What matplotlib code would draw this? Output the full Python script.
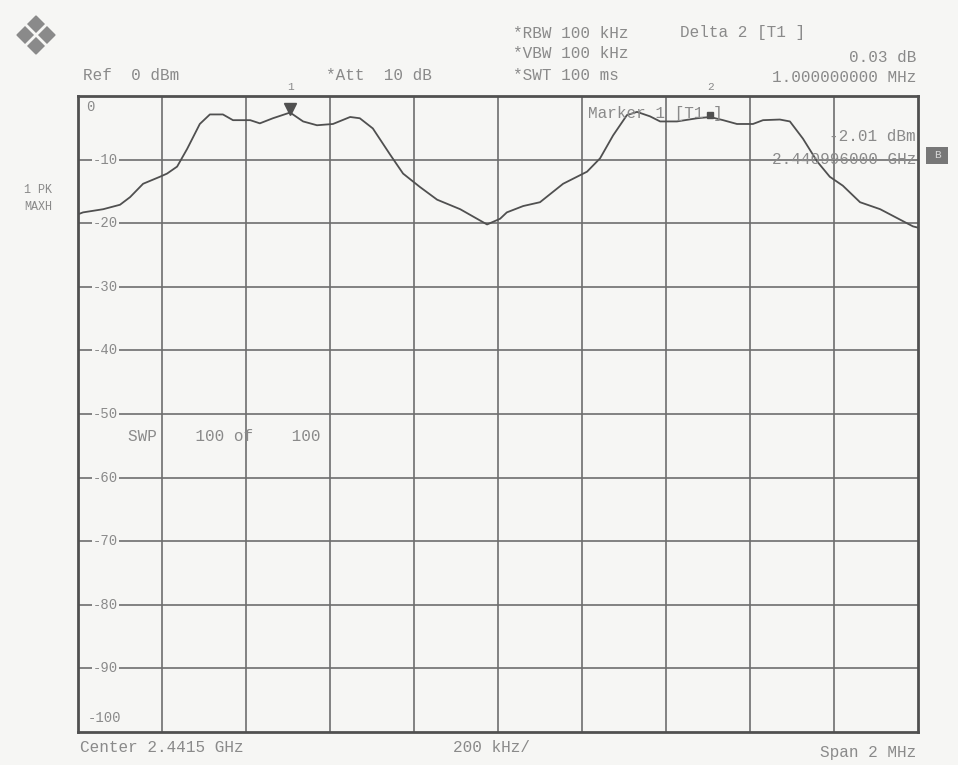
import numpy as np
import matplotlib
matplotlib.use('Agg')
import matplotlib.pyplot as plt
from matplotlib.patches import Polygon, Rectangle

# trace, frequency offset from center (MHz) and level (dBm)
freq_mhz = [-1.0, -0.988, -0.94, -0.900, -0.876, -0.845, -0.805, -0.788, -0.764, -0.740,
            -0.710, -0.686, -0.655, -0.631, -0.590, -0.567, -0.536, -0.495, -0.464, -0.431,
            -0.393, -0.352, -0.329, -0.298, -0.257, -0.226, -0.186, -0.145, -0.090, -0.026,
            0.005, 0.021, 0.060, 0.100, 0.155, 0.212, 0.243, 0.274, 0.307, 0.331,
            0.362, 0.386, 0.426, 0.474, 0.505, 0.536, 0.569, 0.607, 0.631, 0.671,
            0.695, 0.726, 0.760, 0.790, 0.821, 0.862, 0.910, 0.988, 1.0]
level_dbm = [-18.6, -18.3, -17.8, -17.1, -15.9, -13.8, -12.7, -12.2, -11.1, -8.3,
             -4.4, -2.9, -2.9, -3.8, -3.8, -4.3, -3.5, -2.6, -4.0, -4.6,
             -4.4, -3.3, -3.5, -5.1, -9.2, -12.2, -14.3, -16.3, -17.8, -20.2,
             -19.3, -18.3, -17.3, -16.7, -13.8, -11.9, -9.8, -6.2, -3.0, -2.5,
             -3.2, -4.0, -4.0, -3.5, -3.3, -3.8, -4.4, -4.4, -3.8, -3.7,
             -4.0, -6.7, -10.3, -12.7, -14.1, -16.7, -17.8, -20.5, -20.7]

y_ticks = [0, -10, -20, -30, -40, -50, -60, -70, -80, -90, -100]
y_labels = ['0', '-10', '-20', '-30', '-40', '-50', '-60', '-70', '-80', '-90', '-100']
x_ticks = [-1.0, -0.8, -0.6, -0.4, -0.2, 0.0, 0.2, 0.4, 0.6, 0.8, 1.0]

marker1 = (-0.495, -2.0)
marker2 = (0.505, -3.0)

paper = '#f6f6f4'
txt = '#8a8a8a'
mono = ['Liberation Mono', 'DejaVu Sans Mono']

fig = plt.figure(figsize=(9.58, 7.65), dpi=100, facecolor=paper)
ax = fig.add_axes([78/958, 1 - 732/765, 840/958, 636/765])
ax.set_facecolor(paper)
ax.set_xlim(-1, 1)
ax.set_ylim(-100, 0)

for xv in x_ticks[1:-1]:
    ax.axvline(xv, color='#6e6e6e', lw=1.2, zorder=1)
for yv in y_ticks[1:-1]:
    ax.axhline(yv, color='#6e6e6e', lw=1.2, zorder=1)
for s in ax.spines.values():
    s.set_color('#505050')
    s.set_linewidth(2.0)
ax.set_xticks([])
ax.set_yticks([])

ytr = ax.get_yaxis_transform()
for yv, lab in zip(y_ticks, y_labels):
    if yv == 0:
        ax.text(0.01, yv - 1.8, lab, color=txt, fontsize=10, family=mono, va='center', ha='left',
                transform=ytr)
    elif yv == -100:
        ax.text(0.012, yv + 2.2, lab, color=txt, fontsize=10, family=mono, va='center', ha='left',
                transform=ytr)
    else:
        ax.text(0.018, yv, lab, color=txt, fontsize=10, family=mono, va='center', ha='left',
                transform=ytr, bbox=dict(facecolor=paper, edgecolor='none', pad=0.5), zorder=2)

ax.plot(freq_mhz, level_dbm, color='#505050', lw=1.3, zorder=3)

# markers
ax.plot(*marker1, marker='v', color='#505050', ms=8, zorder=4)
ax.text(marker1[0], 0.6, '1', color=txt, fontsize=8, family=mono, ha='center', va='bottom', clip_on=False)
ax.plot(*marker2, marker='s', color='#505050', ms=5, zorder=4)
ax.text(marker2[0], 0.6, '2', color=txt, fontsize=8, family=mono, ha='center', va='bottom', clip_on=False)

ax.text(0.215, -2.7, 'Marker 1 [T1 ]', color=txt, fontsize=11.5, family=mono, va='center', ha='left')
ax.text(0.995, -6.4, '-2.01 dBm', color=txt, fontsize=11.5, family=mono, va='center', ha='right')
ax.text(0.995, -10.0, '2.440996000 GHz', color=txt, fontsize=11.5, family=mono, va='center', ha='right')
ax.text(-0.88, -53.5, 'SWP    100 of    100', color=txt, fontsize=11.5, family=mono, va='center', ha='left')

# header / footer
def ftext(x, y, s, ha='left', size=11.5, color=txt):
    fig.text(x / 958, 1 - y / 765, s, color=color, fontsize=size, family=mono, ha=ha, va='center')

ftext(83, 75, 'Ref  0 dBm')
ftext(326, 75, '*Att  10 dB')
ftext(513, 33, '*RBW 100 kHz')
ftext(680, 33, 'Delta 2 [T1 ]')
ftext(513, 54, '*VBW 100 kHz')
ftext(916, 57, '0.03 dB', ha='right')
ftext(513, 75, '*SWT 100 ms')
ftext(916, 77, '1.000000000 MHz', ha='right')
ftext(80, 748, 'Center 2.4415 GHz')
ftext(453, 748, '200 kHz/')
ftext(916, 752, 'Span 2 MHz', ha='right')
ftext(38, 190, '1 PK', ha='center', size=8.5)
ftext(38, 207, 'MAXH', ha='center', size=8.5)

fig.add_artist(Rectangle((926 / 958, 1 - 164 / 765), 22 / 958, 17 / 765,
                         transform=fig.transFigure, facecolor='#777777', edgecolor='none'))
ftext(937, 155, 'B', ha='center', size=8, color='#d8d8d8')

# logo diamond
cx, cy, r = 36, 35, 19
pts = [(cx, cy - r), (cx + r, cy), (cx, cy + r), (cx - r, cy)]
fig.add_artist(Polygon([(px / 958, 1 - py / 765) for px, py in pts], closed=True,
                       transform=fig.transFigure, facecolor='#8a8a8a', edgecolor='#8a8a8a'))
fig.add_artist(plt.Line2D([(cx - r / 2) / 958, (cx + r / 2) / 958],
                          [1 - (cy - r / 2) / 765, 1 - (cy + r / 2) / 765],
                          transform=fig.transFigure, color=paper, lw=2))
fig.add_artist(plt.Line2D([(cx + r / 2) / 958, (cx - r / 2) / 958],
                          [1 - (cy - r / 2) / 765, 1 - (cy + r / 2) / 765],
                          transform=fig.transFigure, color=paper, lw=2))

fig.savefig('out.png', dpi=100, facecolor=paper)
